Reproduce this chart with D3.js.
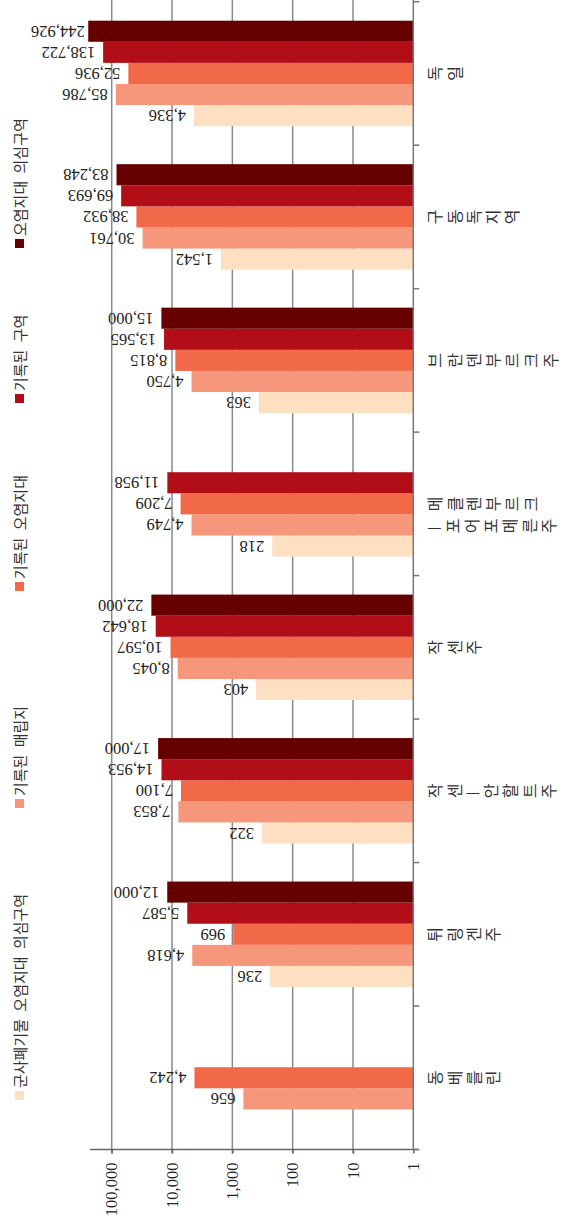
<!DOCTYPE html>
<html>
<head>
<meta charset="utf-8">
<script src="https://cdn.jsdelivr.net/npm/d3@7"></script>
<style>
  html, body { margin: 0; padding: 0; background: #fff; }
  svg { display: block; }
</style>
</head>
<body>
<script>
// Regions, west to east along the category axis
const categories = ["동베를린", "튀링겐주", "작센—안할트주", "작센주",
  "메클렌부르크—포어포메른주", "브란덴부르크주", "구동독지역", "독일"];

const seriesNames = ["군사폐기물 오염지대 의심구역", "기록된 매립지", "기록된 오염지대",
  "기록된 구역", "오염지대 의심구역"];

// Counts per region (null = not reported)
const militarySuspected    = [null, 236, 322, 403, 218, 363, 1542, 4336];
const recordedLandfill     = [656, 4618, 7853, 8045, 4749, 4750, 30761, 85786];
const recordedContaminated = [4242, 969, 7100, 10597, 7209, 8815, 38932, 52936];
const recordedSites        = [null, 5587, 14953, 18642, 11958, 13565, 69693, 138722];
const suspectedAreas       = [null, 12000, 17000, 22000, null, 15000, 83248, 244926];

const tickValues = [1, 10, 100, 1000, 10000, 100000];
const tickLabels = ["1", "10", "100", "1,000", "10,000", "100,000"];

const colors = ["#fde0c2", "#f6967a", "#f2694a", "#b20e18", "#660000"];

const seriesValues = [militarySuspected, recordedLandfill, recordedContaminated,
  recordedSites, suspectedAreas];

// The chart is laid out as a 1224 x 562 column chart and turned a quarter turn
const W = 562, H = 1224;
const CW = 1224, CH = 562;
const serif = "'Liberation Serif', 'Times New Roman', serif";
const sans = "'Noto Sans CJK KR', 'Noto Sans', sans-serif";

const svg = d3.select("body").append("svg").attr("width", W).attr("height", H);
const g = svg.append("g").attr("transform", `translate(0,${H}) rotate(-90)`);

const plotLeft = 74.5, plotRight = 1222.3, plotTop = 90;

const x = d3.scaleBand().domain(categories).range([plotLeft, plotRight]).padding(0);
const xs = d3.scaleBand().domain(d3.range(seriesNames.length))
  .range([19, x.bandwidth() - 19]).padding(0);
const y = d3.scaleLog().domain([1, 100000]).range([413.3, 111.7]);

// Grid lines
g.append("g").selectAll("line").data(tickValues.slice(1)).join("line")
  .attr("x1", plotLeft - 4).attr("x2", CW)
  .attr("y1", d => y(d)).attr("y2", d => y(d))
  .attr("stroke", "#8a8a8a").attr("stroke-width", 1.5);

// Value axis
const yAxis = g.append("g").attr("transform", `translate(${plotLeft},0)`)
  .call(d3.axisLeft(y).tickValues(tickValues)
    .tickFormat((d, i) => tickLabels[i]).tickSize(4).tickPadding(9));
yAxis.select(".domain").remove();
yAxis.selectAll(".tick line").attr("stroke", "#666").attr("stroke-width", 1.5);
yAxis.selectAll(".tick text").attr("font-family", serif).attr("font-size", 16.5)
  .attr("fill", "#222").attr("dy", "0.32em");
yAxis.append("line").attr("x1", 0).attr("x2", 0).attr("y1", plotTop).attr("y2", y(1) + 5)
  .attr("stroke", "#666").attr("stroke-width", 1.5);

// Bars
const groups = g.append("g").selectAll("g").data(categories).join("g")
  .attr("transform", d => `translate(${x(d)},0)`);

const cells = groups.selectAll("g.cell")
  .data((c, ci) => seriesValues.map((vals, si) => ({ si, v: vals[ci] })).filter(d => d.v != null))
  .join("g").attr("class", "cell");

cells.append("rect")
  .attr("x", d => xs(d.si)).attr("width", xs.bandwidth())
  .attr("y", d => y(d.v)).attr("height", d => y(1) - y(d.v))
  .attr("fill", d => colors[d.si]);

// Value labels, set vertically above each column
const fmt = d3.format(",");
cells.append("text")
  .attr("font-family", serif).attr("font-size", 16.5).attr("fill", "#222")
  .attr("dominant-baseline", "central")
  .text(d => fmt(d.v))
  .each(function (d) {
    const w = this.getComputedTextLength();
    const cx = xs(d.si) + xs.bandwidth() / 2;
    const start = Math.max(y(d.v) - 8, 31 + w);
    d3.select(this).attr("transform", `translate(${cx},${start}) rotate(-90)`);
  });

// Category axis
const axisY = y(1);
g.append("line").attr("x1", plotLeft).attr("x2", CW).attr("y1", axisY).attr("y2", axisY)
  .attr("stroke", "#777").attr("stroke-width", 1.5);
const bounds = categories.map(c => x(c)).concat([x(categories[categories.length - 1]) + x.bandwidth()]);
g.append("g").selectAll("line").data(bounds).join("line")
  .attr("x1", d => d).attr("x2", d => d).attr("y1", axisY).attr("y2", axisY + 6)
  .attr("stroke", "#777").attr("stroke-width", 1.5);

// Category names, written top to bottom; long names break before the dash
function splitName(name) {
  const k = name.indexOf("—");
  if (name.length > 8 && k > 0) return [name.slice(0, k), name.slice(k)];
  return [name];
}
groups.each(function (c) {
  const lines = splitName(c);
  const cx = x.bandwidth() / 2;
  lines.forEach((line, li) => {
    d3.select(this).append("text")
      .attr("x", cx - li * 22).attr("y", axisY + 14)
      .style("writing-mode", "vertical-rl")
      .attr("letter-spacing", 3.2)
      .attr("font-family", sans).attr("font-size", 16).attr("fill", "#333")
      .text(line);
  });
});

// Legend
const legendX = [124, 416, 633, 821, 976];
const legend = g.append("g").selectAll("g").data(seriesNames).join("g")
  .attr("transform", (d, i) => `translate(${legendX[i]},15)`);
legend.append("rect").attr("width", 9).attr("height", 9).attr("fill", (d, i) => colors[i]);
legend.append("text").attr("x", 12).attr("y", 4.5).attr("dominant-baseline", "central")
  .attr("font-family", sans).attr("font-size", 15).attr("fill", "#333")
  .attr("word-spacing", 4)
  .text(d => d);
</script>
</body>
</html>
